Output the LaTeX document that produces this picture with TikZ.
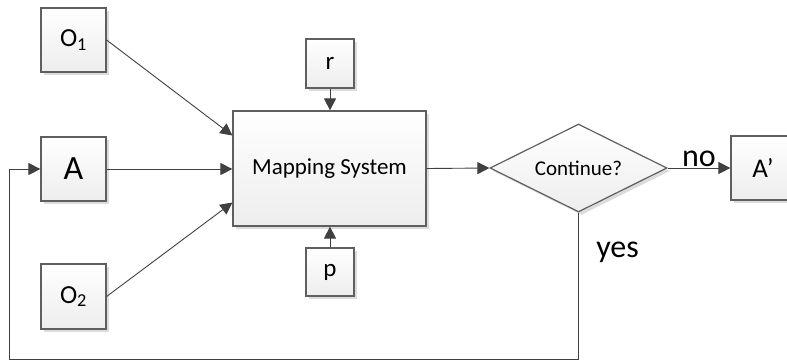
\documentclass[tikz,border=0pt]{standalone}
\usepackage{fontspec}
\setmainfont{Carlito}
\usetikzlibrary{arrows.meta,shapes.geometric,shadows,calc}

\definecolor{edgegray}{HTML}{5F5F5F}
\definecolor{linegray}{HTML}{404040}
\definecolor{shadegray}{HTML}{DCDCDC}

\tikzset{
    box/.style={draw=edgegray, line width=1.2pt, top color=white, bottom color=black!7,
        inner sep=0pt,
        drop shadow={shadow xshift=3pt, shadow yshift=-3pt, fill=shadegray, opacity=1}},
    decision/.style={box, diamond, aspect=2},
    flow/.style={draw=linegray, line width=0.9pt,
        -{Triangle[length=12pt,width=12pt]}},
    plain/.style={draw=linegray, line width=0.9pt},
}

\begin{document}
\begin{tikzpicture}[x=1pt,y=-1pt]

    \useasboundingbox (0,0) rectangle (787,362);
    \clip (0,0) rectangle (787,362);

    % inputs on the left
    \node[box, minimum width=65, minimum height=64, font=\fontsize{26}{30}\selectfont]
        (O1) at (73.5,40) {O\textsubscript{1}};
    \node[box, minimum width=65, minimum height=64, font=\fontsize{34}{40}\selectfont]
        (A) at (73.5,169) {A};
    \node[box, minimum width=65, minimum height=65, font=\fontsize{26}{30}\selectfont]
        (O2) at (73.5,296.5) {O\textsubscript{2}};

    % the mapping block and its parameters
    \node[box, minimum width=193, minimum height=115, font=\fontsize{23}{27}\selectfont]
        (map) at (329.5,168.5) {Mapping System};
    \node[box, minimum width=48, minimum height=49, font=\fontsize{25}{30}\selectfont]
        (r) at (330,63.5) {r};
    \node[box, minimum width=48, minimum height=48, font=\fontsize{25}{30}\selectfont]
        (p) at (330,272) {p};

    % decision and output
    \node[decision, minimum width=177, minimum height=88, font=\fontsize{21}{25}\selectfont]
        (ask) at (578.5,168) {Continue?};
    \node[box, minimum width=64, minimum height=64, font=\fontsize{27}{32}\selectfont]
        (Aout) at (763,168) {A’};

    % connectors
    \draw[flow] (O1.east) -- ([yshift=33pt]map.west);
    \draw[flow] (A.east) -- (A.east -| map.west);
    \draw[flow] (O2.east) -- ([yshift=-34pt]map.west);
    \draw[flow] (r.south) -- (r.south |- map.north);
    \draw[flow] (p.north) -- (p.north |- map.south);
    \draw[flow] (map.east) -- (ask.west);
    \draw[flow] (ask.east) -- node[above, font=\fontsize{32}{36}\selectfont, inner sep=1pt] {no} (Aout.west);

    % feedback loop
    \coordinate (turn) at (578.5,359);
    \coordinate (back) at (9,359);
    \draw[plain] (ask.south) -- node[pos=0.27, right=14pt, font=\fontsize{32}{36}\selectfont] {yes} (turn);
    \draw[flow] (turn) -- (back) |- (A.west);

\end{tikzpicture}
\end{document}
